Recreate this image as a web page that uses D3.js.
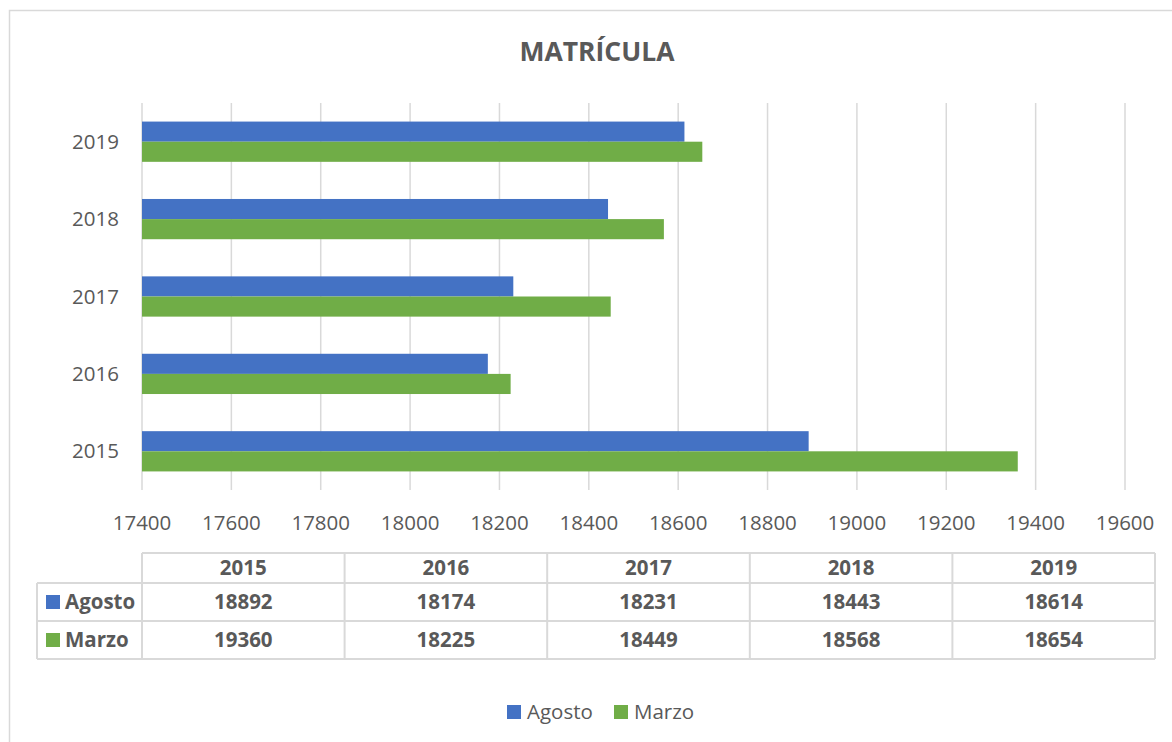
<!DOCTYPE html>
<html>
<head>
<meta charset="utf-8">
<script src="https://cdn.jsdelivr.net/npm/d3@7"></script>
<style>
  body { margin: 0; background: #fff; }
  text { font-family: "Open Sans", "Noto Sans", sans-serif; fill: #595959; }
</style>
</head>
<body>
<div id="chart"></div>
<script>
const years = ["2015", "2016", "2017", "2018", "2019"];
const agosto = [18892, 18174, 18231, 18443, 18614];
const marzo = [19360, 18225, 18449, 18568, 18654];
const seriesNames = ["Agosto", "Marzo"];
const colors = ["#4472C4", "#70AD47"];

const W = 1172, H = 742;
const plot = { left: 142, right: 1125, top: 103, bottom: 490 };
const table = { left: 37, colStart: 142, right: 1155, rows: [553, 583, 621, 659] };
const fs = "20.5px";

const svg = d3.select("#chart").append("svg").attr("width", W).attr("height", H);

// outer chart frame
svg.append("rect").attr("x", 9.5).attr("y", 10.5).attr("width", W + 20).attr("height", H + 20)
  .attr("fill", "none").attr("stroke", "#d9d9d9").attr("stroke-width", 1.5);

svg.append("text").attr("x", 597).attr("y", 61).attr("text-anchor", "middle")
  .attr("font-size", "26.5px").attr("font-weight", "bold").text("MATRÍCULA");

const x = d3.scaleLinear().domain([17400, 19600]).range([plot.left, plot.right]);
const y = d3.scaleBand().domain(years.slice().reverse()).range([plot.top, plot.bottom])
  .paddingInner(0.48).paddingOuter(0.24);
const sub = d3.scaleBand().domain(seriesNames).range([0, y.bandwidth()]);

// gridlines
svg.append("g").selectAll("line").data(x.ticks(11)).join("line")
  .attr("x1", d => x(d)).attr("x2", d => x(d))
  .attr("y1", plot.top).attr("y2", plot.bottom)
  .attr("stroke", "#d9d9d9").attr("stroke-width", 1.5);

// x tick labels
svg.append("g").selectAll("text").data(x.ticks(11)).join("text")
  .attr("x", d => x(d)).attr("y", 530).attr("text-anchor", "middle")
  .attr("font-size", fs).text(d => d);

// y labels
svg.append("g").selectAll("text").data(years).join("text")
  .attr("x", 119).attr("y", d => y(d) + y.bandwidth() / 2 + 7).attr("text-anchor", "end")
  .attr("font-size", fs).text(d => d);

const series = [agosto, marzo];
series.forEach((vals, si) => {
  svg.append("g").selectAll("rect").data(years).join("rect")
    .attr("x", x(17400))
    .attr("y", d => y(d) + sub(seriesNames[si]))
    .attr("width", (d, i) => x(vals[i]) - x(17400))
    .attr("height", sub.bandwidth())
    .attr("fill", colors[si]);
});

// data table
const colW = (table.right - table.colStart) / years.length;
const tg = svg.append("g").attr("stroke", "#d9d9d9").attr("stroke-width", 2);
const [r0, r1, r2, r3] = table.rows;
// horizontal lines
tg.append("line").attr("x1", table.colStart).attr("x2", table.right).attr("y1", r0).attr("y2", r0);
[r1, r2, r3].forEach(r => tg.append("line").attr("x1", table.left).attr("x2", table.right).attr("y1", r).attr("y2", r));
// vertical lines
tg.append("line").attr("x1", table.left).attr("x2", table.left).attr("y1", r1).attr("y2", r3);
d3.range(years.length + 1).forEach(i => {
  tg.append("line").attr("x1", table.colStart + i * colW).attr("x2", table.colStart + i * colW)
    .attr("y1", r0).attr("y2", r3);
});

svg.append("g").selectAll("text").data(years).join("text")
  .attr("x", (d, i) => table.colStart + (i + 0.5) * colW).attr("y", (r0 + r1) / 2 + 7)
  .attr("text-anchor", "middle").attr("font-size", fs).attr("font-weight", "bold").text(d => d);

series.forEach((vals, si) => {
  const top = table.rows[si + 1], bot = table.rows[si + 2];
  const cy = (top + bot) / 2;
  svg.append("rect").attr("x", 46).attr("y", cy - 7).attr("width", 14).attr("height", 14).attr("fill", colors[si]);
  svg.append("text").attr("x", 65).attr("y", cy + 7).attr("font-size", fs).attr("font-weight", "bold")
    .text(seriesNames[si]);
  svg.append("g").selectAll("text").data(vals).join("text")
    .attr("x", (d, i) => table.colStart + (i + 0.5) * colW).attr("y", cy + 7)
    .attr("text-anchor", "middle").attr("font-size", fs).attr("font-weight", "bold").text(d => d);
});

// bottom legend
const legX = [507, 614];
seriesNames.forEach((name, i) => {
  svg.append("rect").attr("x", legX[i]).attr("y", 705).attr("width", 14).attr("height", 14).attr("fill", colors[i]);
  svg.append("text").attr("x", legX[i] + 20).attr("y", 719).attr("font-size", fs).text(name);
});
</script>
</body>
</html>
